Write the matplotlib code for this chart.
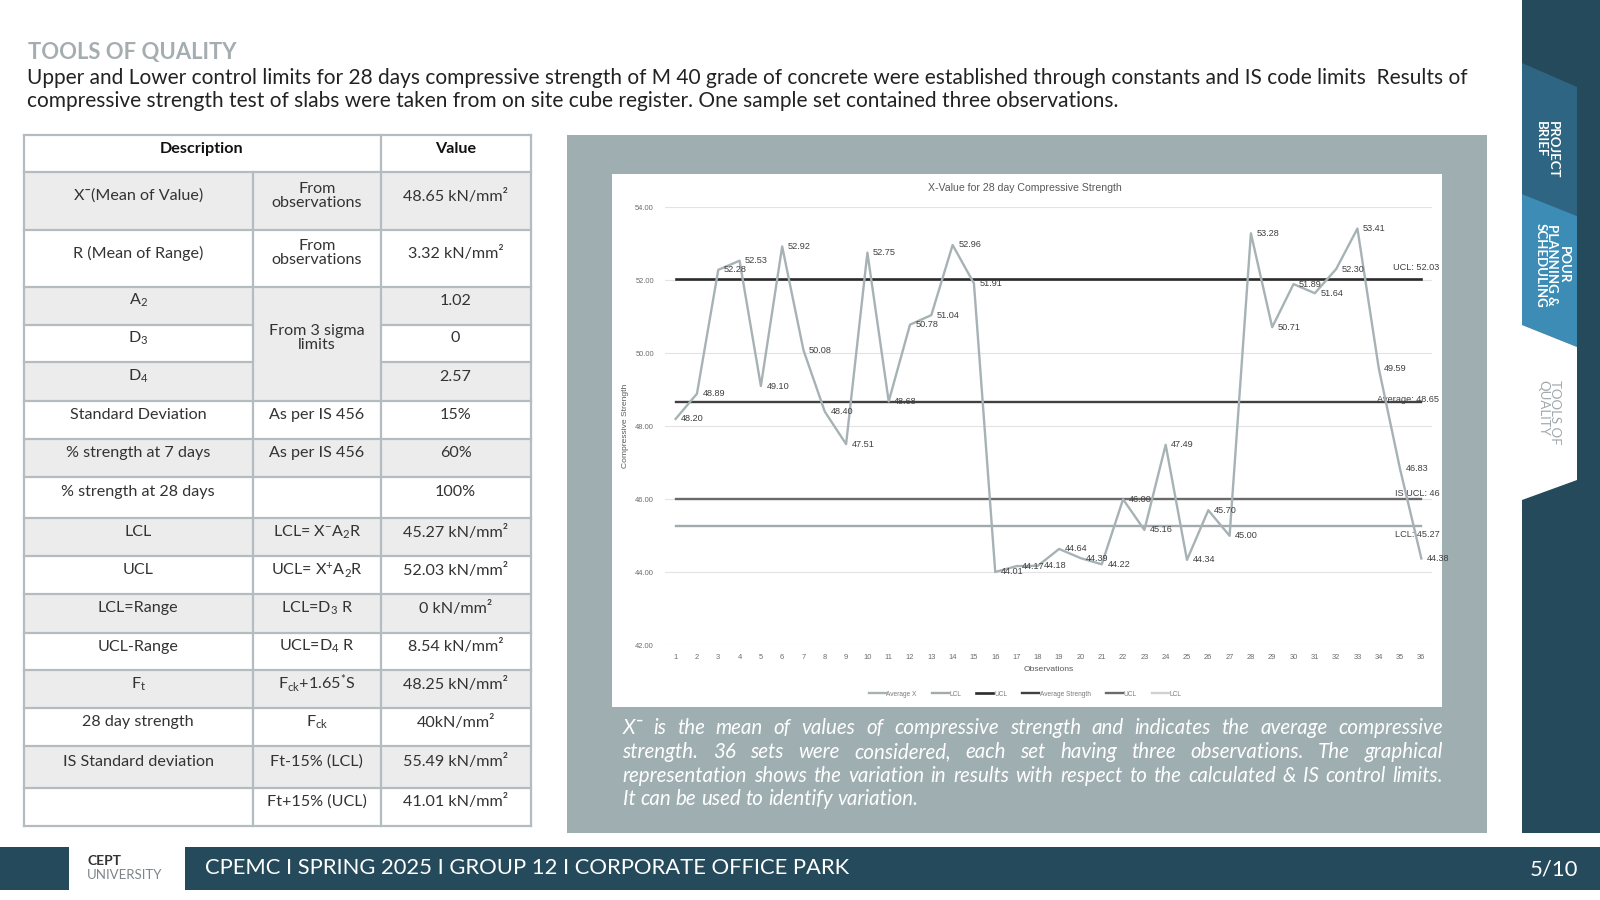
import numpy as np
import matplotlib.pyplot as plt
from matplotlib.patches import Rectangle, Polygon

plt.rcParams['font.family'] = ['Lato', 'DejaVu Sans']
plt.rcParams['mathtext.fontset'] = 'custom'
plt.rcParams['mathtext.rm'] = 'Lato'
plt.rcParams['mathtext.it'] = 'Lato:italic'
plt.rcParams['mathtext.bf'] = 'Lato:bold'

# ---- chart data ----
obs = list(range(1, 37))
avg_x = [48.20, 48.89, 52.28, 52.53, 49.10, 52.92, 50.08, 48.40, 47.51, 52.75,
         48.68, 50.78, 51.04, 52.96, 51.91, 44.01, 44.17, 44.18, 44.64, 44.39,
         44.22, 46.00, 45.16, 47.49, 44.34, 45.70, 45.00, 53.28, 50.71, 51.89,
         51.64, 52.30, 53.41, 49.59, 46.83, 44.38]
lcl = 45.27
ucl = 52.03
avg_strength = 48.65
is_ucl = 46.0
is_lcl = 41.01

# ---- table data ----
desc = ['X\u00af(Mean of Value)', 'R (Mean of Range)', 'A$_2$', 'D$_3$', 'D$_4$',
        'Standard Deviation', '% strength at 7 days', '% strength at 28 days',
        'LCL', 'UCL', 'LCL=Range', 'UCL-Range', r'F$_\mathrm{t}$',
        '28 day strength', 'IS Standard deviation', '']
basis = ['From\nobservations', 'From\nobservations', None, None, None,
         'As per IS 456', 'As per IS 456', '',
         'LCL= X$^{-}$A$_2$R', 'UCL= X$^{+}$A$_2$R', 'LCL=D$_3$ R', 'UCL=D$_4$ R',
         r'F$_\mathrm{ck}$+1.65$^{*}$S', r'F$_\mathrm{ck}$', 'Ft-15% (LCL)', 'Ft+15% (UCL)']
values = ['48.65 kN/mm\u00b2', '3.32 kN/mm\u00b2', '1.02', '0', '2.57', '15%', '60%',
          '100%', '45.27 kN/mm\u00b2', '52.03 kN/mm\u00b2', '0 kN/mm\u00b2',
          '8.54 kN/mm\u00b2', '48.25 kN/mm\u00b2', '40kN/mm\u00b2', '55.49 kN/mm\u00b2',
          '41.01 kN/mm\u00b2']

fig = plt.figure(figsize=(16, 9), dpi=100)
fig.patch.set_facecolor('white')

# background axes in pixel units (y down)
bg = fig.add_axes([0, 0, 1, 1])
bg.set_xlim(0, 1600)
bg.set_ylim(900, 0)
bg.axis('off')

dark = '#244a5b'
txt = '#333333'

# header
bg.text(28, 52, 'TOOLS OF QUALITY', fontsize=15.8, fontweight='bold', color='#a5adb0', va='center')
bg.text(27, 77.5, 'Upper and Lower control limits for 28 days compressive strength of M 40 grade of concrete were '
        'established through constants and IS code limits  Results of', fontsize=15, color='#222222', va='center')
bg.text(27, 101, 'compressive strength test of slabs were taken from on site cube register. One sample set '
        'contained three observations.', fontsize=15, color='#222222', va='center')

# ---- table ----
cols = [23.5, 253, 380.6, 530.6]
rows = [134.7, 172.4, 229.6, 286.7, 324.5, 362.2, 401, 438.8, 476.5, 518.4, 556.1,
        593.9, 632.7, 670.4, 708.2, 745.9, 787.8, 825.5]
grey = '#ececec'
border = '#b4bcc0'
fs = 11.6
for i in range(len(desc)):
    y0, y1 = rows[i + 1], rows[i + 2]
    fc = grey if i % 2 == 0 else 'white'
    bg.add_patch(Rectangle((cols[0], y0), cols[3] - cols[0], y1 - y0, fc=fc, ec='none'))
# merged sigma cell
bg.add_patch(Rectangle((cols[1], rows[3]), cols[2] - cols[1], rows[6] - rows[3], fc=grey, ec='none'))
# grid lines
for k, y in enumerate(rows):
    if 4 <= k <= 5:
        bg.plot([cols[0], cols[1]], [y, y], color=border, lw=1.6)
        bg.plot([cols[2], cols[3]], [y, y], color=border, lw=1.6)
    else:
        bg.plot([cols[0], cols[3]], [y, y], color=border, lw=1.6)
bg.plot([cols[0], cols[0]], [rows[0], rows[-1]], color=border, lw=1.6)
bg.plot([cols[3], cols[3]], [rows[0], rows[-1]], color=border, lw=1.6)
bg.plot([cols[1], cols[1]], [rows[1], rows[-1]], color=border, lw=1.6)
bg.plot([cols[2], cols[2]], [rows[0], rows[-1]], color=border, lw=1.6)

bg.text((cols[0] + cols[2]) / 2, (rows[0] + rows[1]) / 2 - 5, 'Description', fontsize=fs,
        fontweight='bold', color='#111111', ha='center', va='center')
bg.text((cols[2] + cols[3]) / 2, (rows[0] + rows[1]) / 2 - 5, 'Value', fontsize=fs,
        fontweight='bold', color='#111111', ha='center', va='center')
for i in range(len(desc)):
    yc = (rows[i + 1] + rows[i + 2]) / 2 - 5
    bg.text((cols[0] + cols[1]) / 2, yc, desc[i], fontsize=fs, color=txt, ha='center', va='center')
    if basis[i]:
        bg.text((cols[1] + cols[2]) / 2, yc, basis[i], fontsize=fs, color=txt, ha='center',
                va='center', linespacing=1.0)
    bg.text((cols[2] + cols[3]) / 2, yc, values[i], fontsize=fs, color=txt, ha='center', va='center')
bg.text((cols[1] + cols[2]) / 2, (rows[3] + rows[6]) / 2 - 6, 'From 3 sigma\nlimits', fontsize=fs,
        color=txt, ha='center', va='center', linespacing=1.0)

# ---- chart panel ----
bg.add_patch(Rectangle((567, 134.7), 920, 698, fc='#9eaeb1', ec='none'))
bg.add_patch(Rectangle((612, 173.5), 830, 533.5, fc='white', ec='none'))

ax = fig.add_axes([665 / 1600, 1 - 645.4 / 900, 767 / 1600, (645.4 - 207) / 900])
ax.set_facecolor('none')
n = len(obs)
ax.plot(obs, avg_x, color='#a7b2b4', lw=1.7, label='Average X', zorder=5)
ax.plot(obs, [lcl] * n, color='#a3aaac', lw=1.7, label='LCL')
ax.plot(obs, [ucl] * n, color='#2b2b2b', lw=1.9, label='UCL')
ax.plot(obs, [avg_strength] * n, color='#404040', lw=1.7, label='Average Strength')
ax.plot(obs, [is_ucl] * n, color='#6a6a6a', lw=1.7, label='UCL')
ax.plot(obs, [is_lcl] * n, color='#d0d0d0', lw=1.7, label='LCL')
ax.set_xlim(0.5, 36.5)
ax.set_ylim(42, 54)
ax.set_yticks(np.arange(42, 54.1, 2))
ax.set_yticklabels(['%.2f' % v for v in np.arange(42, 54.1, 2)])
ax.set_xticks(obs)
ax.grid(axis='y', color='#e3e3e3', lw=0.8)
ax.set_axisbelow(True)
for s in ax.spines.values():
    s.set_visible(False)
ax.tick_params(length=0, labelsize=5.4, labelcolor='#6b6b6b')
ax.tick_params(axis='x', pad=6)
ax.tick_params(axis='y', pad=8)
for lab in ax.get_xticklabels() + ax.get_yticklabels():
    lab.set_fontfamily('Liberation Sans')
ax.set_xlabel('Observations', fontsize=6.1, color='#595959', family='Liberation Sans', labelpad=4)
ax.set_ylabel('Compressive Strength', fontsize=6.1, color='#595959', family='Liberation Sans', labelpad=4)

for x, v in zip(obs, avg_x):
    ax.annotate('%.2f' % v, (x, v), xytext=(4, 0), textcoords='offset points', va='center',
                fontsize=6.6, color='#404040', family='Liberation Sans', zorder=6)

end_labels = [('UCL: 52.03', ucl, 8), ('Average: 48.65', avg_strength, 2),
              ('IS UCL: 46', is_ucl, 4), ('LCL: 45.27', lcl, -6)]
for s, v, dy in end_labels:
    ax.annotate(s, (36, v), xytext=(13, dy), textcoords='offset points', ha='right', va='center',
                fontsize=6.6, color='#404040', family='Liberation Sans', annotation_clip=False)

bg.text(1025, 188, 'X-Value for 28 day Compressive Strength', fontsize=7.6, color='#595959',
        family='Liberation Sans', ha='center', va='center')
handles, labels = ax.get_legend_handles_labels()
fig.legend(handles, labels, loc='center', bbox_to_anchor=(1025 / 1600, 1 - 694 / 900), ncol=6,
           frameon=False, prop={'family': 'Liberation Sans', 'size': 4.7}, handlelength=2.6,
           columnspacing=2.3, handletextpad=0.1, labelcolor='#7a7a7a')

# justified caption
caption = ['X\u00af is the mean of values of compressive strength and indicates the average compressive',
           'strength. 36 sets were considered, each set having three observations. The graphical',
           'representation shows the variation in results with respect to the calculated & IS control limits.',
           'It can be used to identify variation.']
cap_y = [727.6, 752, 775.5, 799]
cfs = 14.8
r = fig.canvas.get_renderer()
for k, line in enumerate(caption):
    words = line.split()
    ts = [bg.text(0, cap_y[k], w, fontsize=cfs, style='italic', color='white', va='center') for w in words]
    ws = [t.get_window_extent(r).width for t in ts]
    if k < 3:
        gap = (1443 - 622.5 - sum(ws)) / (len(words) - 1)
    else:
        gap = bg.text(0, 0, ' ', fontsize=cfs, style='italic').get_window_extent(r).width
    xx = 622.5
    for t, w in zip(ts, ws):
        t.set_x(xx)
        xx += w + gap

# ---- sidebar ----
bg.add_patch(Rectangle((1522, 0), 78, 833, fc=dark, ec='none'))
bg.add_patch(Polygon([(1522, 63), (1577, 87), (1577, 216), (1522, 194)], fc='#2e6582', ec='none'))
bg.add_patch(Polygon([(1522, 194), (1577, 216), (1577, 347), (1522, 325)], fc='#3c8cb6', ec='none'))
bg.add_patch(Polygon([(1522, 325), (1577, 347), (1577, 480), (1522, 500)], fc='white', ec='none'))
bg.text(1547, 121, 'PROJECT\nBRIEF', rotation=-90, fontsize=9.5, fontweight='bold', color='white',
        ha='center', va='top', multialignment='left', linespacing=0.95)
bg.text(1552, 265, 'POUR\nPLANNING &\nSCHEDULING', rotation=-90, fontsize=9.5, fontweight='bold',
        color='white', ha='center', va='center', multialignment='center', linespacing=0.95)
bg.text(1549, 380, 'TOOLS OF\nQUALITY', rotation=-90, fontsize=9.5, color='#a0a8ac',
        ha='center', va='top', multialignment='left', linespacing=0.95)

# ---- footer ----
bg.add_patch(Rectangle((0, 847), 69, 43, fc=dark, ec='none'))
bg.add_patch(Rectangle((185, 847), 1415, 43, fc=dark, ec='none'))
bg.text(87, 861, 'CEPT', fontsize=10, fontweight='bold', color='#333333', va='center')
bg.text(87, 875, 'UNIVERSITY', fontsize=9.5, color='#7d8589', va='center')
bg.text(205, 868, 'CPEMC I SPRING 2025 I GROUP 12 I CORPORATE OFFICE PARK', fontsize=15.8,
        color='white', va='center')
bg.text(1578, 870, '5/10', fontsize=15.8, color='white', va='center', ha='right')

plt.savefig('out.png', dpi=100)
